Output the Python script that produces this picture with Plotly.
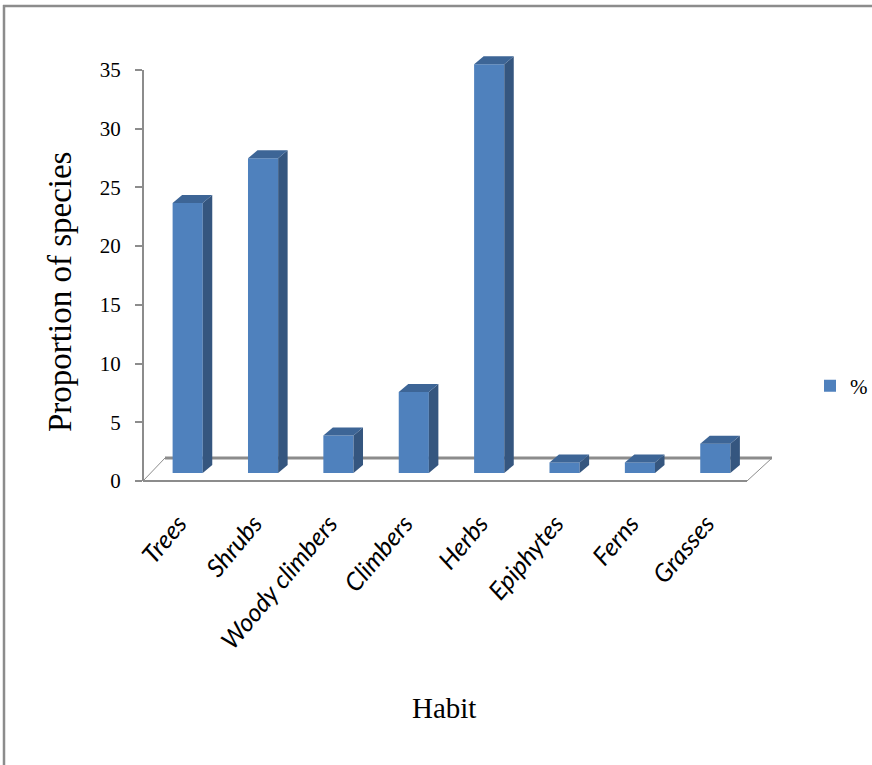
import plotly.graph_objects as go

# Growth-habit shares of recorded species (%)
habits = ["Trees", "Shrubs", "Woody climbers", "Climbers", "Herbs",
          "Epiphytes", "Ferns", "Grasses"]
percent = [23.0, 26.8, 3.2, 6.9, 34.8, 0.9, 0.9, 2.5]
y_ticks = [0, 5, 10, 15, 20, 25, 30, 35]

W, H = 872, 765
# plot-area geometry in pixels
L, R, T, B = 143, 753, 40, 481
px_per_cat = 75.4
px_per_unit = 11.743
x_lo = -0.5 - (150 - L) / px_per_cat
x_hi = 7.5
y_top = (B - T) / px_per_unit
bar_lift = 8 / px_per_unit          # columns stand a little behind the front edge
depth_x = 9.5 / px_per_cat          # pseudo-3D depth offsets in data units
depth_y = 8 / px_per_unit
bar_w = 0.4

FRONT = "#4F81BD"
SIDE = "#35567F"
TOP = "#3D6596"
GREY = "#8C8C8C"


def pxx(p):
    return (p - L) / (R - L)


def pxy(p):
    return (B - p) / (B - T)


fig = go.Figure()

fig.add_trace(go.Bar(
    x=list(range(len(habits))), y=percent, base=bar_lift, width=bar_w, name="%",
    marker=dict(color=FRONT, line=dict(width=0)),
))

# side and top faces for each column
for i, v in enumerate(percent):
    xl, xr = i - bar_w / 2, i + bar_w / 2
    y0, y1 = bar_lift, bar_lift + v
    fig.add_trace(go.Scatter(
        x=[xr, xr + depth_x, xr + depth_x, xr, xr],
        y=[y0, y0 + depth_y, y1 + depth_y, y1, y0],
        fill="toself", fillcolor=SIDE, mode="lines", line=dict(width=0, color=SIDE),
        showlegend=False, hoverinfo="skip"))
    fig.add_trace(go.Scatter(
        x=[xl, xr, xr + depth_x, xl + depth_x, xl],
        y=[y1, y1, y1 + depth_y, y1 + depth_y, y1],
        fill="toself", fillcolor=TOP, mode="lines", line=dict(width=0, color=TOP),
        showlegend=False, hoverinfo="skip"))

shapes = []
# floor outline
shapes.append(dict(type="line", xref="paper", yref="paper",
                   x0=pxx(165), y0=pxy(458), x1=pxx(772), y1=pxy(458),
                   line=dict(color=GREY, width=3), layer="below"))
shapes.append(dict(type="line", xref="paper", yref="paper",
                   x0=pxx(143), y0=pxy(481), x1=pxx(747), y1=pxy(481),
                   line=dict(color=GREY, width=2), layer="below"))
shapes.append(dict(type="line", xref="paper", yref="paper",
                   x0=pxx(143), y0=pxy(481), x1=pxx(165), y1=pxy(458),
                   line=dict(color=GREY, width=1), layer="below"))
shapes.append(dict(type="line", xref="paper", yref="paper",
                   x0=pxx(747), y0=pxy(481), x1=pxx(772), y1=pxy(458),
                   line=dict(color=GREY, width=1), layer="below"))
# vertical value axis line
shapes.append(dict(type="line", xref="paper", yref="paper",
                   x0=pxx(143), y0=pxy(70), x1=pxx(143), y1=pxy(481),
                   line=dict(color=GREY, width=2)))
# outer frame (top and left edges)
shapes.append(dict(type="line", xref="paper", yref="paper",
                   x0=pxx(3), y0=pxy(6), x1=pxx(872), y1=pxy(6),
                   line=dict(color=GREY, width=2.5)))
shapes.append(dict(type="line", xref="paper", yref="paper",
                   x0=pxx(4), y0=pxy(5), x1=pxx(4), y1=pxy(765),
                   line=dict(color=GREY, width=2.5)))

annotations = [
    dict(text="Proportion of species", xref="paper", yref="paper",
         x=pxx(60), y=pxy(292), xanchor="center", yanchor="middle",
         showarrow=False, textangle=-90,
         font=dict(family="Liberation Serif", size=33, color="#000000")),
    dict(text="Habit", xref="paper", yref="paper",
         x=pxx(444), y=pxy(708), xanchor="center", yanchor="middle", showarrow=False,
         font=dict(family="Liberation Serif", size=29, color="#000000")),
]

fig.update_layout(
    width=W, height=H, autosize=False,
    margin=dict(l=L, r=W - R, t=T, b=H - B, pad=0, autoexpand=False),
    paper_bgcolor="white", plot_bgcolor="white",
    xaxis=dict(range=[x_lo, x_hi], tickvals=list(range(len(habits))),
               ticktext=["<i>%s</i>" % h for h in habits],
               tickangle=-50, showgrid=False, zeroline=False, showline=False,
               ticks="", ticklabelstandoff=22, ticklabelshift=-9, automargin=False,
               tickfont=dict(family="Lato", size=25, color="#000000")),
    yaxis=dict(range=[0, y_top], tickvals=y_ticks, showgrid=False, zeroline=False,
               showline=False, ticks="outside", ticklen=7, tickwidth=2, tickcolor=GREY,
               ticklabelstandoff=10, automargin=False,
               tickfont=dict(family="Liberation Serif", size=21, color="#000000")),
    showlegend=True,
    legend=dict(x=pxx(810), y=pxy(386), xanchor="left", yanchor="middle",
                font=dict(family="Liberation Serif", size=21, color="#000000"),
                bgcolor="rgba(0,0,0,0)"),
    shapes=shapes, annotations=annotations,
)

fig.write_html("out.html", config={"responsive": False})
